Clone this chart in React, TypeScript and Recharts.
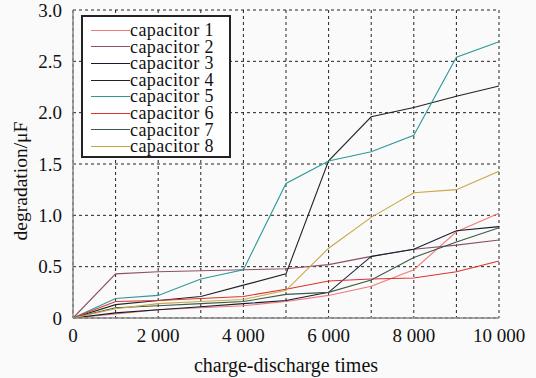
import React from 'react';
import { LineChart, Line, XAxis, YAxis, CartesianGrid } from 'recharts';

const times = [0, 1000, 2000, 3000, 4000, 5000, 6000, 7000, 8000, 9000, 10000];
const cap1 = [0, 0.04, 0.08, 0.1, 0.12, 0.16, 0.22, 0.31, 0.47, 0.84, 1.02];
const cap2 = [0, 0.43, 0.45, 0.46, 0.47, 0.48, 0.52, 0.6, 0.67, 0.71, 0.76];
const cap3 = [0, 0.05, 0.08, 0.11, 0.14, 0.17, 0.25, 0.6, 0.67, 0.85, 0.89];
const cap4 = [0, 0.13, 0.17, 0.21, 0.32, 0.43, 1.53, 1.96, 2.05, 2.16, 2.26];
const cap5 = [0, 0.19, 0.22, 0.38, 0.47, 1.31, 1.53, 1.62, 1.78, 2.54, 2.69];
const cap6 = [0, 0.16, 0.17, 0.19, 0.21, 0.28, 0.36, 0.38, 0.39, 0.45, 0.555];
const cap7 = [0, 0.1, 0.12, 0.14, 0.16, 0.23, 0.25, 0.37, 0.59, 0.74, 0.88];
const cap8 = [0, 0.09, 0.14, 0.16, 0.18, 0.27, 0.68, 0.98, 1.22, 1.25, 1.43];

const xTicks = [0, 1000, 2000, 3000, 4000, 5000, 6000, 7000, 8000, 9000, 10000];
const yTicks = [0, 0.5, 1.0, 1.5, 2.0, 2.5, 3.0];

const series = [
  { key: 'c1', name: 'capacitor 1', values: cap1, color: '#f07878' },
  { key: 'c2', name: 'capacitor 2', values: cap2, color: '#8c5068' },
  { key: 'c3', name: 'capacitor 3', values: cap3, color: '#141a30' },
  { key: 'c4', name: 'capacitor 4', values: cap4, color: '#222222' },
  { key: 'c5', name: 'capacitor 5', values: cap5, color: '#2e9898' },
  { key: 'c6', name: 'capacitor 6', values: cap6, color: '#e03030' },
  { key: 'c7', name: 'capacitor 7', values: cap7, color: '#3c5a44' },
  { key: 'c8', name: 'capacitor 8', values: cap8, color: '#c8a844' },
];

const data = times.map((t, i) => {
  const row: Record<string, number> = { t };
  series.forEach((s) => { row[s.key] = s.values[i]; });
  return row;
});

const font = '"Liberation Serif", "Times New Roman", serif';

const fmtX = (v: number) => {
  if (v % 2000 !== 0) return '';
  if (v === 0) return '0';
  return `${Math.floor(v / 1000)} 000`;
};
const fmtY = (v: number) => (v === 0 ? '0' : v.toFixed(1));

// rotated y label, a bit below the plot centre like the original
const YLabel = (props: any) => {
  const vb = props.viewBox || {};
  const cx = 27;
  const cy = (vb.y ?? 10) + (vb.height ?? 308) / 2 + 17;
  return (
    <text x={cx} y={cy} transform={`rotate(-90, ${cx}, ${cy})`} textAnchor="middle" fill="#111" fontSize={19.5} fontFamily={font}>
      degradation/μF
    </text>
  );
};

export default function App() {
  return (
    <div style={{ position: 'absolute', left: 0, top: 0, width: 536, height: 378, background: '#fafafa' }}>
      <LineChart width={536} height={378} data={data} margin={{ top: 10, right: 37, left: 0, bottom: 0 }}>
        <CartesianGrid stroke="#222" strokeDasharray="3 3" />
        <XAxis
          dataKey="t"
          type="number"
          domain={[0, 10000]}
          ticks={xTicks}
          tickFormatter={fmtX}
          interval={0}
          height={60}
          tickLine={false}
          tickMargin={5}
          axisLine={{ stroke: '#888', strokeWidth: 1.5 }}
          tick={{ fill: '#111', fontSize: 19, fontFamily: font }}
          label={{ value: 'charge-discharge times', position: 'insideBottom', offset: 6, fill: '#111', fontSize: 20, fontFamily: font }}
        />
        <YAxis
          type="number"
          domain={[0, 3]}
          ticks={yTicks}
          tickFormatter={fmtY}
          interval={0}
          width={73}
          tickLine={false}
          tickMargin={5}
          axisLine={{ stroke: '#888', strokeWidth: 1.5 }}
          tick={{ fill: '#111', fontSize: 19, fontFamily: font }}
          label={<YLabel />}
        />
        {series.map((s) => (
          <Line key={s.key} type="linear" dataKey={s.key} name={s.name} stroke={s.color} strokeWidth={1.1} dot={false} isAnimationActive={false} />
        ))}
      </LineChart>
      <div style={{ position: 'absolute', left: 81, top: 15, boxSizing: 'border-box', width: 150, height: 143, border: '2px solid #222', background: '#fff', padding: '5px 0 0 8px', fontFamily: font, fontSize: 18, lineHeight: '16.6px', letterSpacing: 0.4 }}>
        {series.map((s) => (
          <div key={s.key} style={{ display: 'flex', alignItems: 'center', color: '#111', height: 16.6, whiteSpace: 'nowrap' }}>
            <span style={{ display: 'inline-block', width: 39, height: 0, borderTop: `1.5px solid ${s.color}`, marginRight: 0 }} />
            <span>{s.name}</span>
          </div>
        ))}
      </div>
    </div>
  );
}
